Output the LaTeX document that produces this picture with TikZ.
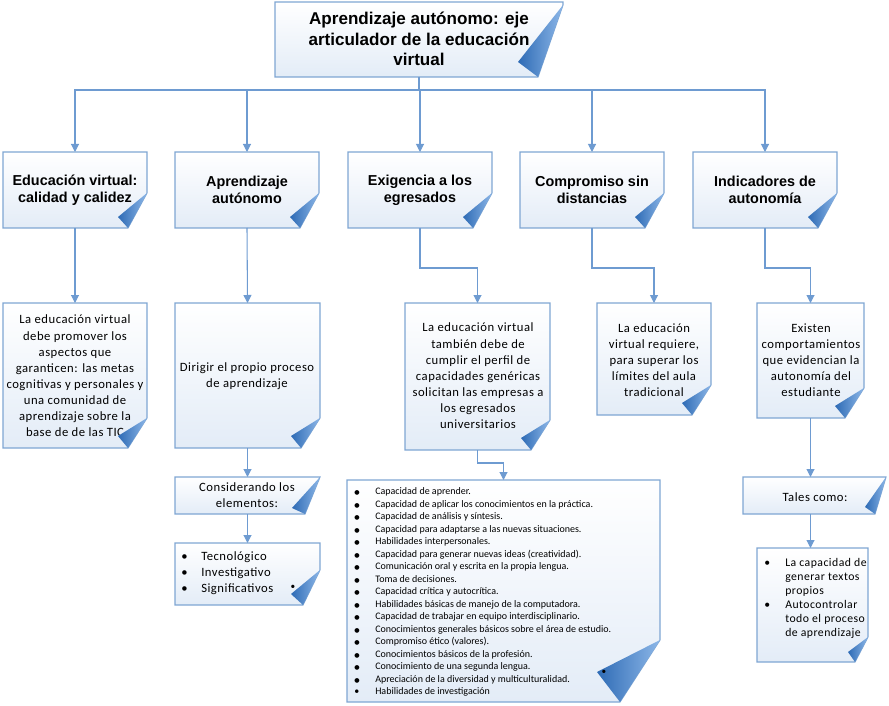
\documentclass[tikz,border=0pt]{standalone}
\usepackage{fontspec}
\setmainfont{Carlito}
\newfontfamily\arialf{Liberation Sans}
\newfontfamily\djf{DejaVu Sans}
\newfontfamily\calsp[LetterSpace=4]{Carlito}
\usetikzlibrary{calc,backgrounds,arrows.meta}
\definecolor{edge}{HTML}{7FA6D3}
\definecolor{connc}{HTML}{6E9BD1}
\definecolor{paperB}{HTML}{E3ECF7}
\definecolor{flapL}{HTML}{8DB7E8}
\definecolor{flapD}{HTML}{2E6BB5}
% #1 node, #2 flap height on right edge, #3 flap width on bottom, #4/#5 tip offsets (px)
\newcommand\paper[5]{%
  \begin{scope}[on background layer]
    \shadedraw[top color=white, bottom color=paperB, draw=edge, line width=0.8pt]
      (#1.north west) -- (#1.north east) -- ($(#1.south east)+(0,-#2)$)
      -- ($(#1.south east)+(-#3,0)$) -- (#1.south west) -- cycle;
  \end{scope}
  \shade[left color=flapD, right color=flapL]
    ($(#1.south east)+(0,-#2)$) -- ($(#1.south east)+(-#4,-#5)$)
    -- ($(#1.south east)+(-#3,0)$) -- cycle;
}
\newcommand\bl{\makebox[15.75pt][l]{\djf\fontsize{4.6}{5}\selectfont ●}}
\begin{document}
\begin{tikzpicture}[x=0.75pt,y=-0.75pt,
  pbox/.style={draw=none, inner sep=0pt, outer sep=0pt, anchor=north west},
  sz/.style 2 args={minimum width=#1*0.75pt, minimum height=#2*0.75pt},
  conn/.style={draw=connc, line width=0.8pt, -{Triangle[width=6pt,length=6pt]}},
  plain/.style={draw=connc, line width=0.8pt},
  ttl/.style={font=\arialf\bfseries\fontsize{12.8}{15.4}\selectfont, align=center, inner sep=0pt},
  hd/.style={font=\arialf\bfseries\fontsize{10.8}{12.8}\selectfont, align=center, inner sep=0pt},
  bd/.style={font=\calsp\fontsize{9.5}{12.1}\selectfont, align=center, inner sep=0pt},
  lst/.style={font=\fontsize{7.5}{9.375}\selectfont, align=left, inner sep=0pt, anchor=west},
  dot/.style={font=\fontsize{7}{7}\selectfont, inner sep=0pt}]
\useasboundingbox (0,0) rectangle (889,706);

% top
\node[pbox, sz={288}{75}] (T) at (275,2) {};
\node[ttl] (Tt) at (419,39) {Aprendizaje autónomo: eje\\articulador de la educación\\virtual};
\paper{T}{72}{25}{45}{15}

% level 2
\node[pbox, sz={144}{76}] (A1) at (3,152) {};
\node[hd] (A1t) at (75,190) {Educación virtual:\\calidad y calidez};
\paper{A1}{35}{19}{29}{11}
\node[pbox, sz={144}{76}] (A2) at (175,152) {};
\node[hd] (A2t) at (247,190) {Aprendizaje\\autónomo};
\paper{A2}{35}{19}{29}{11}
\node[pbox, sz={144}{76}] (A3) at (348,152) {};
\node[hd] (A3t) at (420,190) {Exigencia a los\\egresados};
\paper{A3}{35}{19}{29}{11}
\node[pbox, sz={144}{76}] (A4) at (520,152) {};
\node[hd] (A4t) at (592,190) {Compromiso sin\\distancias};
\paper{A4}{35}{19}{29}{11}
\node[pbox, sz={144}{76}] (A5) at (693,152) {};
\node[hd] (A5t) at (765,190) {Indicadores de\\autonomía};
\paper{A5}{35}{19}{29}{11}

\coordinate (J) at ($(T.south)+(0,13)$);
\draw[plain] (T.south) -- (J);
\draw[conn] (J) -| (A1.north);
\draw[conn] (J) -| (A2.north);
\draw[conn] (J) -| (A3.north);
\draw[conn] (J) -| (A4.north);
\draw[conn] (J) -| (A5.north);

% level 3
\node[pbox, sz={144}{145}] (B1) at (3,303) {};
\node[bd] (B1t) at (75,376) {La educación virtual\\debe promover los\\aspectos que\\garanticen: las metas\\cognitivas y personales y\\una comunidad de\\aprendizaje sobre la\\base de de las TIC};
\paper{B1}{30}{19}{29}{12}
\node[pbox, sz={145}{145}] (B2) at (175,303) {};
\node[bd] (B2t) at (247,376) {Dirigir el propio proceso\\de aprendizaje};
\paper{B2}{30}{19}{29}{12}
\node[pbox, sz={145}{147}] (B3) at (405,303) {};
\node[bd] (B3t) at (478,376) {La educación virtual\\también debe de\\cumplir el perfil de\\capacidades genéricas\\solicitan las empresas a\\los egresados\\universitarios};
\paper{B3}{30}{19}{29}{12}
\node[pbox, sz={114}{112}] (B4) at (597,303) {};
\node[bd] (B4t) at (654,360) {La educación\\virtual requiere,\\para superar los\\límites del aula\\tradicional};
\paper{B4}{30}{19}{29}{12}
\node[pbox, sz={107}{115}] (B5) at (757,303) {};
\node[bd] (B5t) at (811,360) {Existen\\comportamientos\\que evidencian la\\autonomía del\\estudiante};
\paper{B5}{30}{19}{29}{12}

\draw[conn] (A1.south) -- (B1.north);
\draw[conn] (A2.south) -- (B2.north);
\draw[conn] (A3.south) -- ($(A3.south)+(0,40)$) -| (B3.north);
\draw[conn] (A4.south) -- ($(A4.south)+(0,40)$) -| (B4.north);
\draw[conn] (A5.south) -- ($(A5.south)+(0,40)$) -| (B5.north);

% level 4
\node[pbox, sz={145}{37}] (C2) at (175,477) {};
\node[bd] (C2t) at (247,495) {Considerando los\\elementos:};
\paper{C2}{37}{15}{28}{6}
\node[pbox, sz={145}{62}] (D2) at (175,543) {};
\node[lst, font=\calsp\fontsize{9.5}{12}\selectfont] (D2t) at (181,573) {\makebox[15pt][l]{•}Tecnológico\\\makebox[15pt][l]{•}Investigativo\\\makebox[15pt][l]{•}Significativos};
\paper{D2}{35}{17}{29}{11}
\node[dot] (s1) at (293,587) {•};

\node[pbox, sz={313}{222}] (L) at (347,480) {};
\node[lst] (Lt) at (354,592) {%
\bl Capacidad de aprender.\\
\bl Capacidad de aplicar los conocimientos en la práctica.\\
\bl Capacidad de análisis y síntesis.\\
\bl Capacidad para adaptarse a las nuevas situaciones.\\
\bl Habilidades interpersonales.\\
\bl Capacidad para generar nuevas ideas (creatividad).\\
\bl Comunicación oral y escrita en la propia lengua.\\
\bl Toma de decisiones.\\
\bl Capacidad crítica y autocrítica.\\
\bl Habilidades básicas de manejo de la computadora.\\
\bl Capacidad de trabajar en equipo interdisciplinario.\\
\bl Conocimientos generales básicos sobre el área de estudio.\\
\bl Compromiso ético (valores).\\
\bl Conocimientos básicos de la profesión.\\
\bl Conocimiento de una segunda lengua.\\
\bl Apreciación de la diversidad y multiculturalidad.\\
\makebox[15.75pt][l]{•}Habilidades de investigación};
\paper{L}{62}{40}{63}{30}
\node[dot] (s2) at (604,672) {•};

\node[pbox, sz={143}{37}] (C5) at (743,477) {};
\node[bd] (C5t) at (815,497) {Tales como:};
\paper{C5}{37}{11}{21}{7}
\node[pbox, sz={111}{114}] (D5) at (757,548) {};
\node[lst, font=\calsp\fontsize{8.8}{10.5}\selectfont] (D5t) at (764,598) {\makebox[15.75pt][l]{•}La capacidad de\\\makebox[15.75pt][l]{}generar textos\\\makebox[15.75pt][l]{}propios\\\makebox[15.75pt][l]{•}Autocontrolar\\\makebox[15.75pt][l]{}todo el proceso\\\makebox[15.75pt][l]{}de aprendizaje};
\paper{D5}{25}{13}{20}{10}

\draw[conn] (B2.south) -- (C2.north);
\draw[conn] (C2.south) -- (D2.north);
\draw[conn] (B3.south) -- ($(B3.south)+(0,13)$) -| (L.north);
\draw[conn] (B5.south) -- (B5.south |- C5.north);
\draw[conn] (B5.south |- C5.south) -- (B5.south |- D5.north);
\end{tikzpicture}
\end{document}
